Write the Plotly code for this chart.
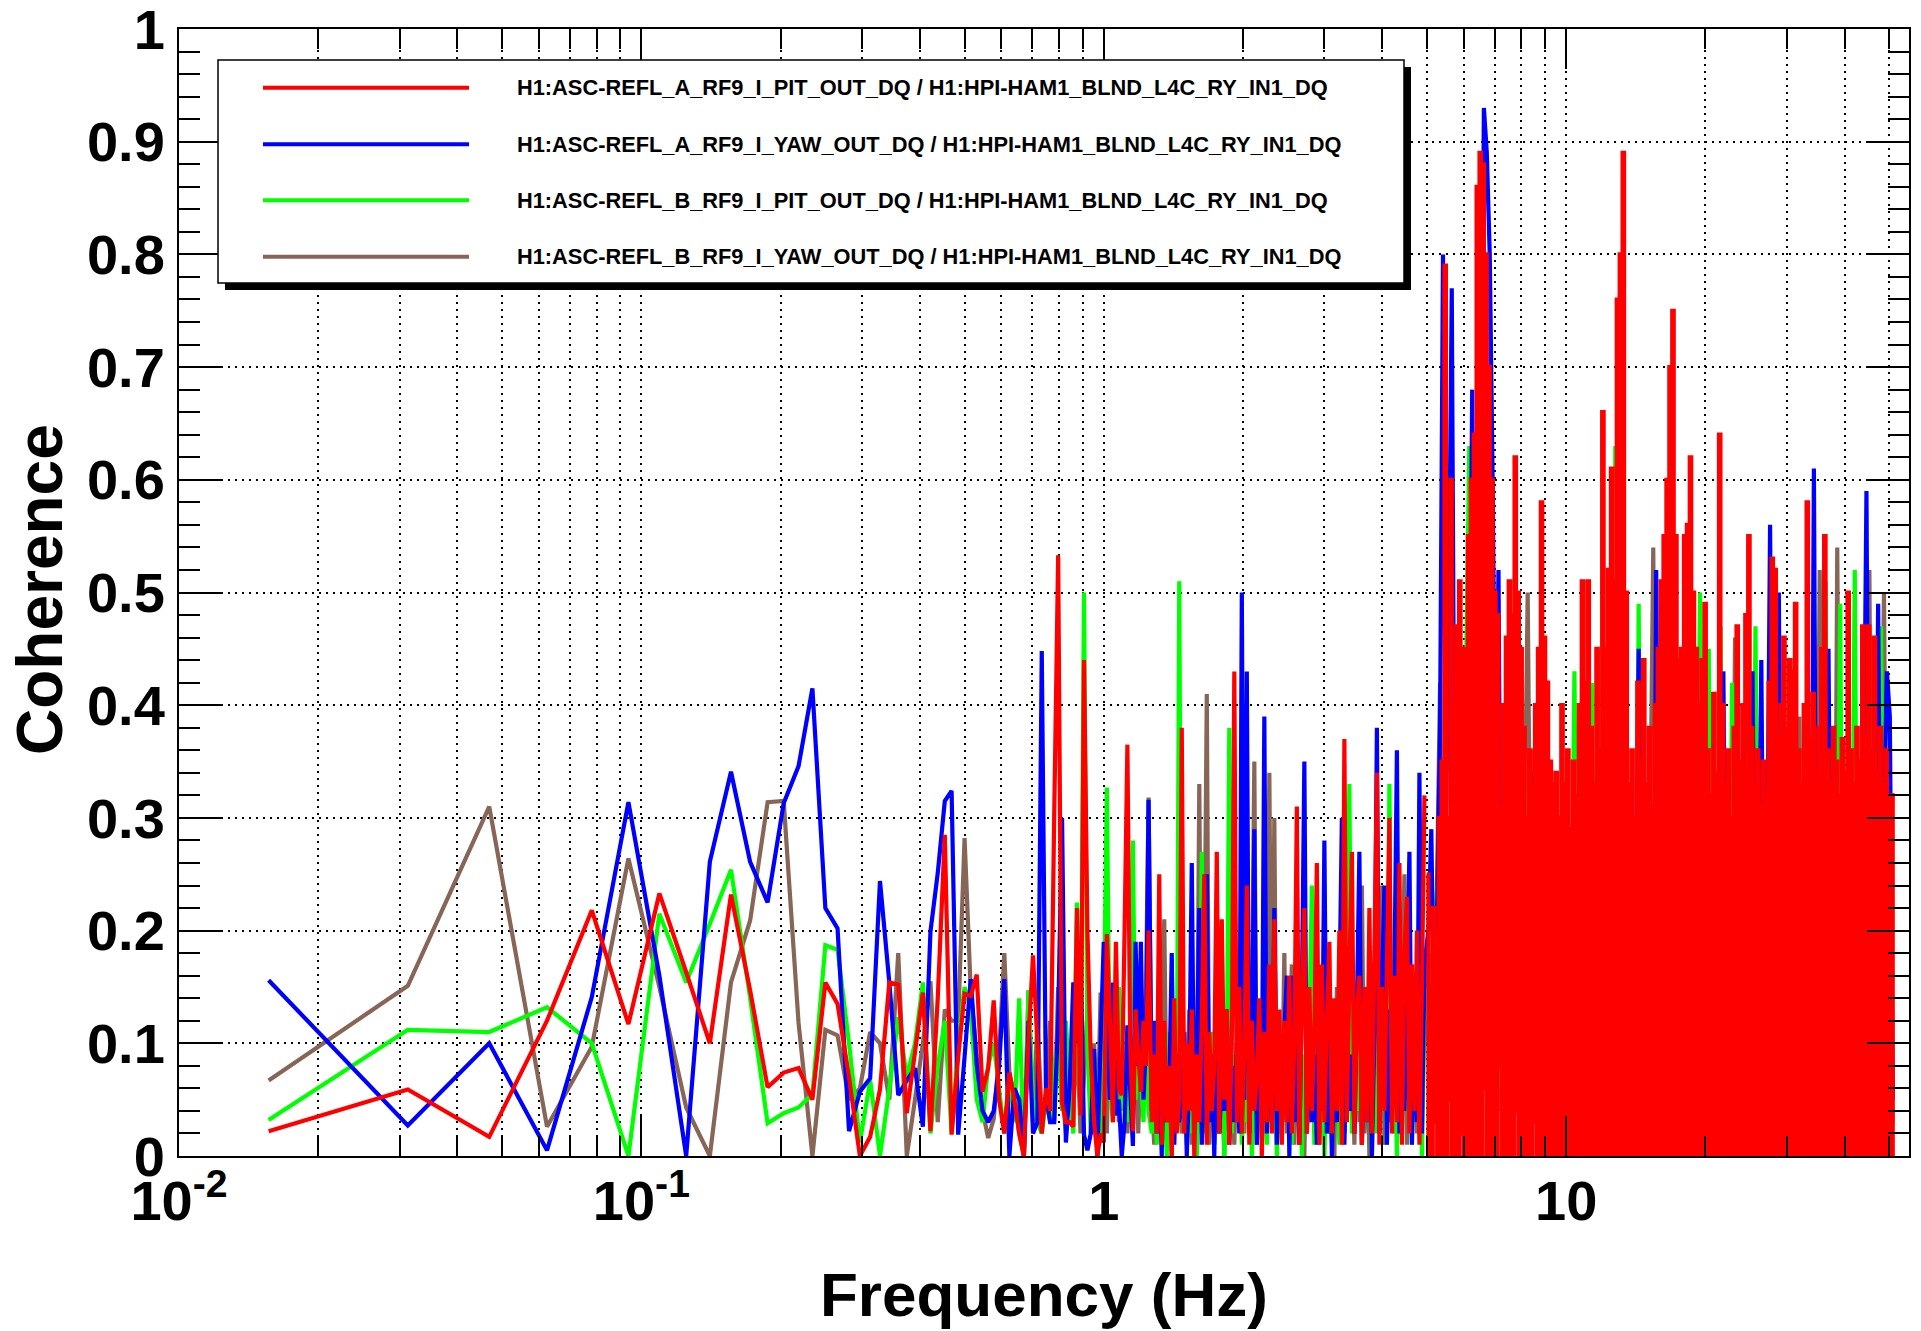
import numpy as np
import plotly.graph_objects as go

# ---------------- data ----------------
df_hz = 1 / 64  # FFT bin width
low_bins = np.arange(1, 81)

red_low = [0.022,0.059,0.017,0.12,0.218,0.117,0.233,0.163,0.10,0.232,
 0.147,0.061,0.074,0.078,0.05,0.154,0.135,0.07,0.0,0.017,
 0.059,0.154,0.152,0.038,0.092,0.145,0.022,0.14,0.285,0.019,
 0.088,0.144,0.142,0.161,0.057,0.078,0.138,0.05,0.02,0.074,
 0.05,0.02,0.0,0.105,0.178,0.10,0.02,0.06,0.04,0.30,
 0.533,0.047,0.03,0.03,0.026,0.22,0.036,0.44,0.20,0.088,
 0.03,0.0,0.02,0.012,0.197,0.12,0.03,0.19,0.06,0.054,
 0.20,0.365,0.10,0.022,0.13,0.09,0.057,0.12,0.08,0.20]
blue_low = [0.156,0.027,0.10,0.005,0.141,0.314,0.16,0.0,0.261,0.341,
 0.261,0.225,0.313,0.346,0.415,0.22,0.202,0.022,0.057,0.069,
 0.244,0.154,0.054,0.067,0.078,0.026,0.199,0.251,0.315,0.324,
 0.019,0.088,0.157,0.081,0.04,0.03,0.04,0.08,0.157,0.0,
 0.06,0.05,0.0,0.12,0.02,0.03,0.448,0.054,0.03,0.03,
 0.12,0.30,0.012,0.06,0.154,0.10,0.19,0.019,0.005,0.02,
 0.095,0.0,0.10,0.19,0.12,0.05,0.154,0.036,0.05,0.0,
 0.03,0.116,0.06,0.009,0.19,0.08,0.19,0.05,0.10,0.316]
green_low = [0.032,0.112,0.11,0.132,0.10,0.0,0.215,0.154,0.206,0.254,
 0.14,0.029,0.038,0.043,0.055,0.187,0.183,0.10,0.012,0.067,
 0.0,0.06,0.123,0.07,0.10,0.154,0.02,0.08,0.12,0.02,
 0.10,0.15,0.13,0.05,0.03,0.08,0.10,0.06,0.02,0.07,
 0.03,0.14,0.0,0.147,0.05,0.03,0.02,0.05,0.03,0.08,
 0.10,0.04,0.12,0.06,0.02,0.225,0.05,0.50,0.10,0.02,
 0.09,0.05,0.02,0.12,0.327,0.06,0.03,0.10,0.15,0.04,
 0.08,0.03,0.12,0.28,0.05,0.10,0.07,0.03,0.12,0.04]
brown_low = [0.067,0.151,0.31,0.026,0.097,0.264,0.15,0.043,0.0,0.154,
 0.209,0.314,0.315,0.118,0.0,0.112,0.107,0.05,0.06,0.11,
 0.10,0.05,0.18,0.0,0.05,0.10,0.155,0.03,0.13,0.12,
 0.12,0.282,0.147,0.088,0.04,0.016,0.033,0.09,0.18,0.074,
 0.054,0.02,0.0,0.147,0.03,0.12,0.036,0.05,0.12,0.03,
 0.15,0.06,0.02,0.09,0.04,0.11,0.02,0.07,0.13,0.05,
 0.10,0.02,0.145,0.06,0.02,0.14,0.05,0.09,0.03,0.11,
 0.06,0.02,0.08,0.04,0.12,0.02,0.10,0.05,0.15,0.318]

# 1.27 - 5 Hz, coherence in percent
f_mid = np.geomspace(1.27, 5.0, 110, endpoint=False)
red_mid_pct = [3,9,2,25,1,12,3,8,0,14, 2,5,38,2,10,4,13,0,9,3, 12,25,1,11,4,8,27,2,21,5,
 13,1,10,43,3,15,2,9,24,1, 12,4,7,14,0,11,3,17,2,21, 4,13,1,12,3,16,2,10,31,1,
 14,22,2,15,4,11,26,1,17,3, 12,19,2,14,4,20,1,37,3,16, 27,2,13,16,1,15,3,22,2,18,
 34,1,15,4,17,30,2,16,3,26, 1,18,23,2,17,4,20,1,15,32]
blue_mid_pct = [4,12,2,8,0,10,3,6,18,1, 9,3,5,11,0,7,26,2,8,22, 1,6,25,3,9,0,12,2,7,4,
 13,1,8,3,10,2,50,5,43,2, 9,29,1,10,4,39,2,12,3,22, 1,9,4,11,16,0,16,3,10,1,
 14,35,2,11,3,9,1,13,4,28, 2,12,0,10,3,14,30,1,11,4, 9,2,13,27,1,12,3,15,0,11,
 38,2,14,24,1,13,3,16,36,2, 12,4,15,27,1,14,3,34,2,17]
green_mid_pct = [2,7,1,10,3,6,0,11,2,8, 4,51,3,7,1,9,2,12,0,6, 27,2,9,4,11,1,7,3,10,0,
 8,38,2,9,4,12,1,6,3,10, 0,8,2,13,4,7,1,9,3,11, 0,7,2,12,4,8,1,10,3,14,
 0,9,2,11,24,1,8,3,12,0, 10,2,13,4,9,1,11,3,15,33, 2,12,4,10,1,13,3,9,0,14,
 2,11,4,15,1,33,3,12,0,16, 2,10,4,18,1,13,3,15,0,12]
brown_mid_pct = [5,1,9,3,12,21,2,8,0,11, 3,7,2,10,4,13,1,8,3,33, 2,14,41,1,9,4,12,2,8,0,
 11,3,7,1,10,3,14,2,9,4, 13,35,1,12,3,8,2,34,4,30, 1,10,3,18,2,9,17,1,11,4,
 8,0,12,3,10,2,14,1,9,4, 13,2,11,0,15,3,9,2,12,4, 10,1,14,3,24,2,11,0,13,4,
 9,2,24,1,12,3,15,2,10,4, 13,25,1,14,3,16,2,12,4,18]

# 5 - 50.86 Hz
f_high = np.geomspace(5.0, 50.86, 320)
red_high_peak_pct = [25,15,22,20,30,35,79,30,60,40, 47,51,45,45,55,60,64,86,89,88,
 80,70,60,50,48,31,40,46,51,48, 62,50,45,38,30,36,33,40,45,58,
 46,42,35,33,34,30,40,33,36,29, 35,32,40,51,42,51,38,33,45,36,
 66,45,52,61,51,76,80,89,50,33, 36,30,42,35,44,33,38,31,40,45,
 51,55,60,70,75,55,44,45,55,56, 62,50,45,40,44,49,36,32,41,34,
 64,40,33,36,30,38,47,35,40,48, 55,38,33,36,31,35,32,42,53,52,
 37,40,46,38,44,43,49,36,33,40, 58,37,41,34,38,45,55,36,33,38,
 35,32,37,34,50,36,33,38,35,47, 37,47,36,46,34,38,33,36,32,32]
red_high_trough_pct = [0,0,3,0,0,0,0,5,0,0, 0,2,0,0,0,0,0,0,0,6, 0,0,0,0,8,0,0,0,0,0,
 4,0,0,0,0,0,3,0,0,0, 0,0,0,0,0,0,0,0,0,0, 0,0,0,0,0,0,0,0,0,0,
 0,0,0,0,0,0,0,0,0,0, 0,0,0,0,0,0,0,0,0,0, 0,0,0,0,0,0,0,0,0,0,
 0,0,0,0,0,0,0,0,0,0, 0,0,0,0,0,0,0,0,0,0, 0,0,0,0,0,0,0,0,0,0,
 0,0,0,0,0,0,0,0,0,0, 0,0,0,0,0,0,0,0,0,0, 0,0,0,0,0,0,0,0,0,0,
 0,0,0,0,0,0,0,0,0,0]
blue_high_pct = [20,29,10,22,38,80,30,48,77,25, 12,30,8,25,35,68,20,40,55,93,
 89,80,60,30,52,10,24,6,22,15, 25,5,20,12,18,34,8,22,10,20,
 15,22,5,18,12,25,6,20,14,24, 4,19,10,22,7,25,12,18,5,23,
 10,20,6,24,12,18,4,22,9,25, 11,20,45,8,21,13,24,5,52,10,
 22,14,19,6,25,11,20,7,23,13, 18,4,24,10,21,15,8,25,12,19,
 6,43,10,22,14,25,5,20,11,23, 8,43,12,21,44,9,24,56,13,20,
 50,7,25,12,19,5,22,14,24,8, 20,11,61,9,22,15,25,45,10,21,
 13,24,6,20,12,25,9,22,14,30, 59,11,23,20,49,15,30,43,39,5]
green_high_pct = [15,4,20,24,8,18,12,22,5,20, 14,25,30,45,63,40,50,60,69,45,
 30,20,10,18,6,22,12,20,4,17, 10,23,8,35,12,20,5,18,11,24,
 7,19,13,22,4,20,10,25,8,18, 43,12,21,6,19,14,42,9,23,11,
 18,5,22,13,63,10,20,7,24,12, 19,4,49,10,22,14,18,6,25,11,
 20,8,23,13,19,5,21,12,24,9, 18,14,22,50,10,20,45,7,23,12,
 47,9,21,14,42,6,19,11,24,8, 20,13,47,10,22,5,18,12,25,9,
 21,14,19,6,23,11,20,8,24,13, 18,5,22,10,25,12,51,9,21,14,
 20,49,7,23,11,19,52,10,22,13, 18,6,24,12,20,47,9,21,14,3]
brown_high_pct = [10,18,5,25,42,12,20,8,15,22, 6,18,10,24,14,20,9,16,23,12,
 21,7,19,11,25,4,20,13,22,8, 18,14,24,30,50,20,36,10,22,6,
 19,12,23,5,20,14,25,9,18,11, 22,7,20,13,24,6,19,12,45,8,
 21,14,18,5,23,11,20,9,24,13, 19,6,22,12,25,8,30,54,14,19,
 7,23,12,20,5,24,11,18,9,22, 13,20,6,25,12,19,8,23,14,18,
 5,21,10,24,13,46,9,20,12,23, 6,19,14,25,8,21,12,18,30,45,
 10,23,14,20,7,24,12,39,9,21, 13,25,6,20,52,11,22,14,19,8,
 54,12,23,10,20,14,24,7,21,13, 25,52,9,22,12,30,50,15,20,5]

legend_labels = [
    "H1:ASC-REFL_A_RF9_I_PIT_OUT_DQ / H1:HPI-HAM1_BLND_L4C_RY_IN1_DQ",
    "H1:ASC-REFL_A_RF9_I_YAW_OUT_DQ / H1:HPI-HAM1_BLND_L4C_RY_IN1_DQ",
    "H1:ASC-REFL_B_RF9_I_PIT_OUT_DQ / H1:HPI-HAM1_BLND_L4C_RY_IN1_DQ",
    "H1:ASC-REFL_B_RF9_I_YAW_OUT_DQ / H1:HPI-HAM1_BLND_L4C_RY_IN1_DQ",
]
x_tick_vals = [0.01, 0.1, 1, 10]
x_tick_text = ["10<sup>-2</sup>", "10<sup>-1</sup>", "1", "10"]
y_tick_vals = [0, 0.1, 0.2, 0.3, 0.4, 0.5, 0.6, 0.7, 0.8, 0.9, 1.0]
y_tick_text = ["0", "0.1", "0.2", "0.3", "0.4", "0.5", "0.6", "0.7", "0.8", "0.9", "1"]
x_title = "Frequency (Hz)"
y_title = "Coherence"

# ---------------- assemble series ----------------
f_low = low_bins * df_hz
red_high = np.empty(320)
red_high[0::2] = np.array(red_high_peak_pct) / 100
red_high[1::2] = np.array(red_high_trough_pct) / 100
f_high_odd = f_high[1::2]

colors = {"red": "#ff0000", "blue": "#0000ff", "green": "#00ff00", "brown": "#876657"}
legend_order = ["red", "blue", "green", "brown"]

# (color key, x, y, line shape) in drawing order: brown, green, blue, red on top
traces = [
    ("brown", np.concatenate([f_low, f_mid, f_high_odd]),
     np.concatenate([brown_low, np.array(brown_mid_pct) / 100, np.array(brown_high_pct) / 100]), "linear"),
    ("green", np.concatenate([f_low, f_mid, f_high_odd]),
     np.concatenate([green_low, np.array(green_mid_pct) / 100, np.array(green_high_pct) / 100]), "linear"),
    ("blue", np.concatenate([f_low, f_mid, f_high_odd]),
     np.concatenate([blue_low, np.array(blue_mid_pct) / 100, np.array(blue_high_pct) / 100]), "linear"),
    ("red", np.concatenate([f_low, f_mid]),
     np.concatenate([red_low, np.array(red_mid_pct) / 100]), "linear"),
    ("red", f_high, red_high, "hv"),
]

# ---------------- figure ----------------
W, H = 1921, 1331
L, R, T, B = 179, 1909, 29, 1156
FONT = "Liberation Sans, Arial, Helvetica, sans-serif"


def px(x):
    return (x - L) / (R - L)


def py(y):
    return (B - y) / (B - T)


fig = go.Figure()
for key, fx, fy, shape in traces:
    fig.add_trace(go.Scatter(x=fx, y=fy, mode="lines",
                             line=dict(color=colors[key], width=4.2, simplify=False, shape=shape),
                             showlegend=False, hoverinfo="skip"))

grid_dash = "2px,5px"
minor_x = [m * 10.0 ** e for e in (-2, -1, 0, 1) for m in range(2, 10) if m * 10.0 ** e < 55]

fig.update_xaxes(
    type="log", range=[-2, np.log10(55.15)], showline=True, linecolor="black", linewidth=2,
    mirror="ticks", ticks="inside", ticklen=40, tickwidth=2, tickcolor="black",
    tickmode="array", tickvals=x_tick_vals, ticktext=x_tick_text,
    tickfont=dict(family=FONT, size=56, color="black", weight="bold"),
    showgrid=True, gridcolor="black", gridwidth=1.5, griddash=grid_dash,
    minor=dict(tickmode="array", tickvals=minor_x, ticks="inside", ticklen=20, tickwidth=2,
               tickcolor="black", showgrid=True, gridcolor="black", gridwidth=1.5,
               griddash=grid_dash),
    zeroline=False, automargin=False, ticklabelstandoff=-5, ticklabeloverflow="allow",
)
fig.update_yaxes(
    range=[0, 1], showline=True, linecolor="black", linewidth=2, mirror="ticks",
    ticks="inside", ticklen=42, tickwidth=2, tickcolor="black",
    tickmode="array", tickvals=y_tick_vals, ticktext=y_tick_text,
    tickfont=dict(family=FONT, size=56, color="black", weight="bold"),
    showgrid=True, gridcolor="black", gridwidth=1.5, griddash=grid_dash,
    minor=dict(tickmode="linear", dtick=0.02, tick0=0, ticks="inside", ticklen=21, tickwidth=2,
               tickcolor="black", showgrid=False),
    zeroline=False, automargin=False, ticklabelstandoff=1, ticklabeloverflow="allow",
)

shapes = []
# legend shadow and box
shapes.append(dict(type="rect", xref="paper", yref="paper", x0=px(225), x1=px(1411),
                   y0=py(290), y1=py(67), fillcolor="black", line=dict(width=0), layer="above"))
shapes.append(dict(type="rect", xref="paper", yref="paper", x0=px(218), x1=px(1404),
                   y0=py(283), y1=py(60), fillcolor="white", line=dict(color="black", width=1.5),
                   layer="above"))
annotations = []
row_y = [87.7, 144.3, 200.3, 256.7]
for key, label, yy in zip(legend_order, legend_labels, row_y):
    shapes.append(dict(type="line", xref="paper", yref="paper", x0=px(263), x1=px(469),
                       y0=py(yy), y1=py(yy), line=dict(color=colors[key], width=4), layer="above"))
    annotations.append(dict(xref="paper", yref="paper", x=px(515), y=py(yy), xanchor="left",
                            yanchor="middle", showarrow=False, text=label,
                            font=dict(family=FONT, size=21.8, color="black", weight="bold")))

annotations.append(dict(xref="paper", yref="paper", x=0.5, y=py(1294), xanchor="center",
                        yanchor="middle", showarrow=False, text=x_title,
                        font=dict(family=FONT, size=62, color="black", weight="bold")))
annotations.append(dict(xref="paper", yref="paper", x=px(40), y=py(590), xanchor="center",
                        yanchor="middle", showarrow=False, text=y_title, textangle=-90,
                        font=dict(family=FONT, size=64, color="black", weight="bold")))

fig.update_layout(
    width=W, height=H, margin=dict(l=L, r=W - R, t=T, b=H - B, pad=0),
    paper_bgcolor="white", plot_bgcolor="white", showlegend=False,
    shapes=shapes, annotations=annotations,
)

fig.write_html("out.html", include_plotlyjs=True, config={"displayModeBar": False},
               post_script="document.body.style.margin='0';document.body.style.overflow='hidden';")
